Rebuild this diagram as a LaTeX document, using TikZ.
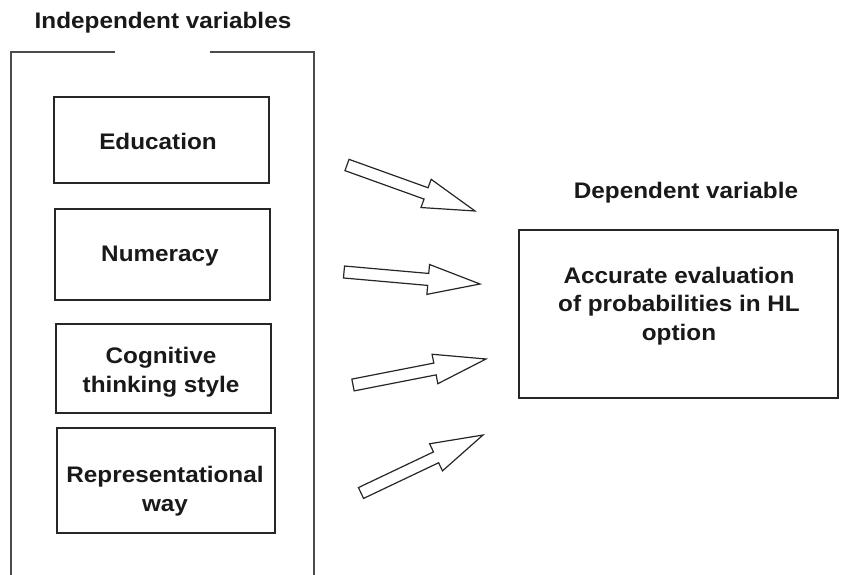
\documentclass[tikz,border=0pt]{standalone}
\usepackage{fontspec}
\setmainfont{Liberation Sans}[FakeStretch=1.08]
\usetikzlibrary{calc}
\tikzset{
  box/.style={draw=black!85, line width=1.2pt},
  frame/.style={draw=black!70, line width=1.3pt},
  lab/.style={font=\bfseries\fontsize{22.5}{28.5}\selectfont, align=center, inner sep=0pt, text=black!90},
  blk/.style={draw=black!85, line width=1.2pt, fill=white, line join=miter},
}
\newcommand{\blockarrow}[2]{%
  \draw[blk] ($(#1)!6pt!90:(#2)$) -- ($($(#2)!52pt!(#1)$)!6pt!90:(#2)$)
     -- ($($(#2)!52pt!(#1)$)!15pt!90:(#2)$) -- (#2)
     -- ($($(#2)!52pt!(#1)$)!15pt!-90:(#2)$) -- ($($(#2)!52pt!(#1)$)!6pt!-90:(#2)$)
     -- ($(#1)!6pt!-90:(#2)$) -- cycle;}
\begin{document}
\begin{tikzpicture}[x=1pt,y=-1pt]
\useasboundingbox (0,0) rectangle (851,575);
% outer frame (open at the heading)
\coordinate (fbl) at (11,575);
\coordinate (ftl) at (11,52);
\coordinate (fgl) at (115,52);
\coordinate (fgr) at (210,52);
\coordinate (ftr) at (314,52);
\coordinate (fbr) at (314,575);
\draw[frame] (fbl) -- (ftl) -- (fgl);
\draw[frame] (fgr) -- (ftr) -- (fbr);
\node[lab] (indep) at (163,23) {Independent variables};
% inner boxes
\draw[box] (54,97) rectangle (269,183);
\draw[box] (55,209) rectangle (270,300);
\draw[box] (56,324) rectangle (271,413);
\draw[box] (57,428) rectangle (275,533);
\node[lab] (edu) at (158,141) {Education};
\node[lab] (num) at (160,256) {Numeracy};
\node[lab] (cog) at (161,372) {Cognitive\\thinking style};
\node[lab] (rep) at (165,491) {Representational\\way};
% dependent
\node[lab] (dep) at (686,193) {Dependent variable};
\draw[box] (519,230) rectangle (838,398);
\node[lab] (acc) at (679,306) {Accurate evaluation\\of probabilities in HL\\option};
% arrows
\coordinate (a1s) at (347,165); \coordinate (a1e) at (475,211);
\coordinate (a2s) at (344,272); \coordinate (a2e) at (480,284);
\coordinate (a3s) at (353,385); \coordinate (a3e) at (486,359);
\coordinate (a4s) at (361,493); \coordinate (a4e) at (483,435);
\blockarrow{a1s}{a1e}
\blockarrow{a2s}{a2e}
\blockarrow{a3s}{a3e}
\blockarrow{a4s}{a4e}
\end{tikzpicture}
\end{document}
